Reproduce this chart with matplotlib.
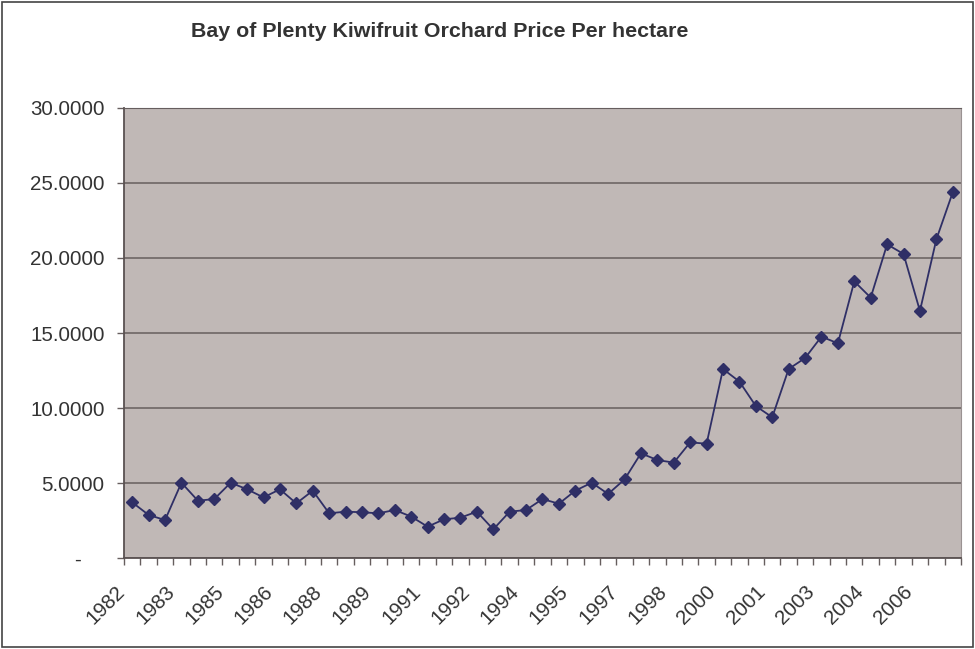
"""Bay of Plenty kiwifruit orchard price per hectare, half-yearly 1982-2007."""
import matplotlib

matplotlib.use("Agg")
import matplotlib.pyplot as plt  # noqa: E402
import matplotlib.transforms as mtransforms  # noqa: E402
from matplotlib.patches import Rectangle  # noqa: E402

_INK = "#333333"
_PLOT_BG = "#C0B8B6"
_GRID = "#665E5E"
_LINE = "#2F2F66"

# half-yearly observations, 1982 to 2007
prices = [
    3.71, 2.87, 2.53, 5.02, 3.82, 3.93, 5.02, 4.58, 4.04, 4.58,
    3.64, 4.49, 2.98, 3.09, 3.05, 2.98, 3.20, 2.76, 2.09, 2.58,
    2.69, 3.09, 1.91, 3.09, 3.20, 3.93, 3.62, 4.49, 5.02, 4.27,
    5.24, 6.98, 6.53, 6.36, 7.71, 7.62, 12.60, 11.76, 10.13, 9.38,
    12.60, 13.33, 14.76, 14.31, 18.44, 17.36, 20.91, 20.27, 16.47, 21.24,
    24.38,
]
year_labels = ["1982", "1983", "1985", "1986", "1988", "1989", "1991", "1992",
               "1994", "1995", "1997", "1998", "2000", "2001", "2003", "2004", "2006"]
label_every = 3
y_ticks = [0, 5, 10, 15, 20, 25, 30]

fig = plt.figure(figsize=(9.75, 6.49), dpi=100)
fig.patch.set_facecolor("white")
ax = fig.add_axes([0.1272, 0.1402, 0.8584, 0.6934])
ax.set_facecolor(_PLOT_BG)

xs = range(len(prices))
ax.plot(xs, prices, color=_LINE, lw=1.3, marker="D", markersize=6.5,
        markerfacecolor=_LINE, markeredgecolor=_LINE, zorder=3)

ax.set_xlim(-0.5, len(prices) - 0.5)
ax.set_ylim(0, 30)

# category ticks sit between the points, labels under every third point
ax.set_xticks([i - 0.5 for i in range(len(prices) + 1)])
ax.set_xticklabels([])
ax.tick_params(axis="x", length=5, width=1, color=_GRID, direction="out")
label_shift = mtransforms.ScaledTranslation(-10 / 100, -31 / 100, fig.dpi_scale_trans)
for pos, lab in zip(range(0, len(prices), label_every), year_labels):
    ax.text(pos, 0, lab, transform=ax.get_xaxis_transform() + label_shift,
            rotation=45, rotation_mode="anchor", ha="right", va="center",
            fontsize=14.8, color=_INK, family="Liberation Sans", clip_on=False)

ax.set_yticks(y_ticks)
ax.set_yticklabels(["-    "] + [f"{v:.4f}" for v in y_ticks[1:]], fontsize=14.8,
                   color=_INK, family="Liberation Sans")
ax.tick_params(axis="y", length=5, width=1, color=_GRID, pad=9)
ax.yaxis.grid(True, color=_GRID, lw=1.1)
ax.set_axisbelow(True)

for side in ("left", "bottom"):
    ax.spines[side].set_color("#5A5252")
    ax.spines[side].set_linewidth(1.3)
ax.spines["right"].set_color("#9A9292")
ax.spines["top"].set_color(_GRID)

fig.text(0.451, 0.951, "Bay of Plenty Kiwifruit Orchard Price Per hectare",
         ha="center", va="center", fontsize=15.4, fontweight="bold",
         color=_INK, family="Liberation Sans")

# chart frame
fig.patches.append(Rectangle((0.002, 0.003), 0.996, 0.994, transform=fig.transFigure,
                             fill=False, edgecolor="#444444", lw=1.2))

fig.savefig("out.png", dpi=100, facecolor="white")
